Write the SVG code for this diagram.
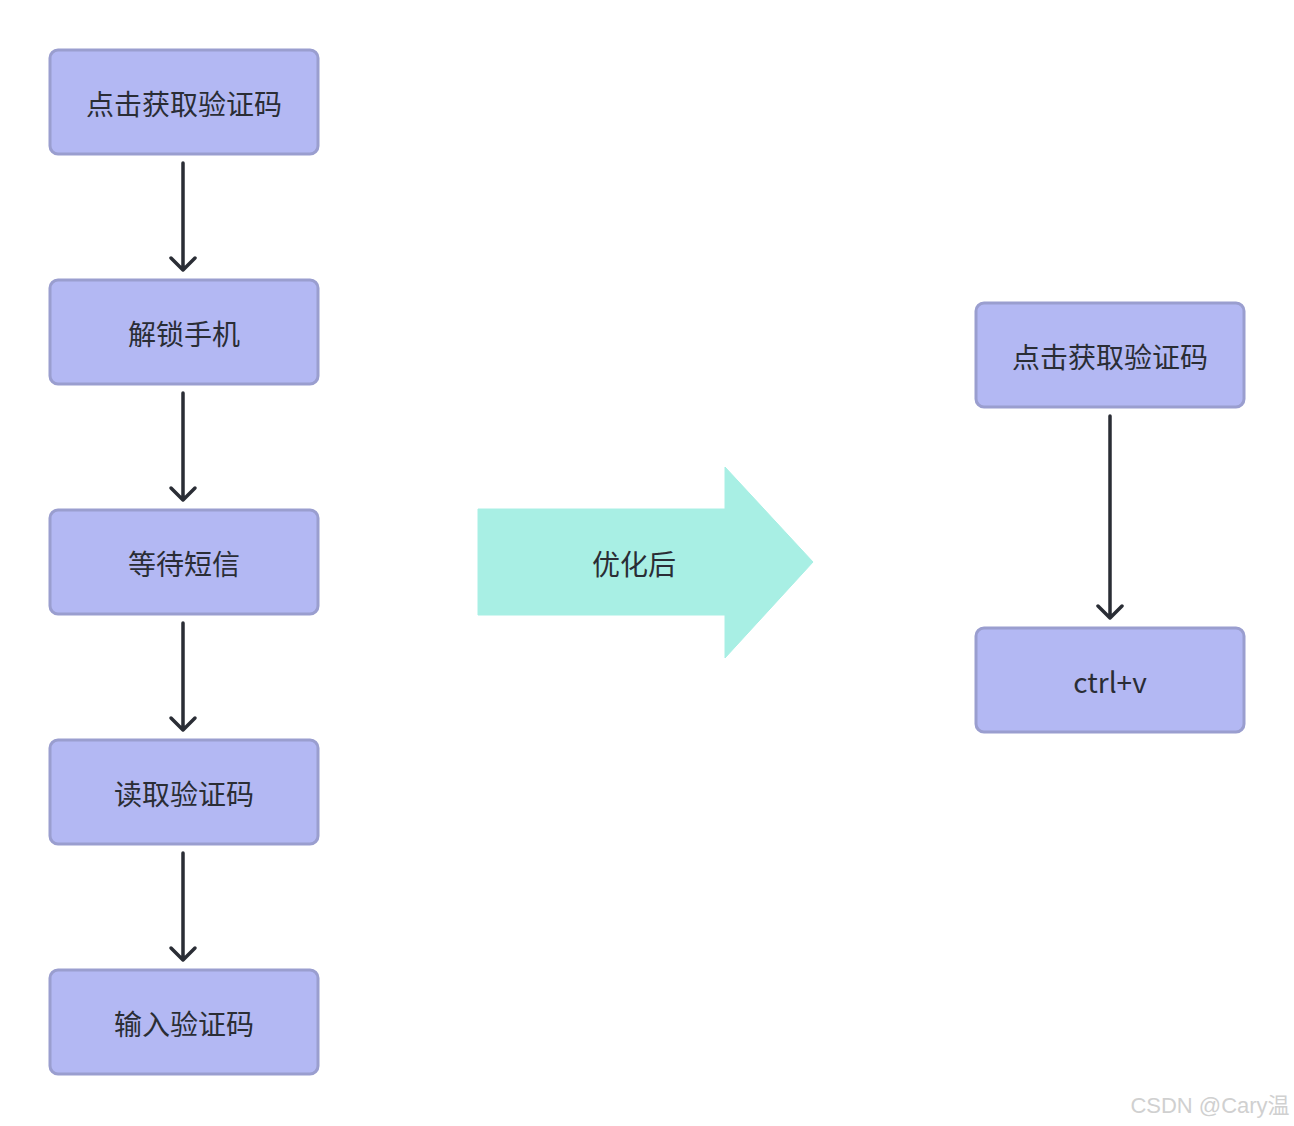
<svg xmlns="http://www.w3.org/2000/svg" width="1294" height="1126" viewBox="0 0 1294 1126">
<defs>
<style>
.box{fill:#b3b8f3;stroke:#9a9ecf;stroke-width:3}
.t{font-family:"Noto Sans CJK SC","Noto Sans",sans-serif;font-size:28px;fill:#2a2d35;text-anchor:middle;dominant-baseline:central}
.c{stroke:#2a2d35;stroke-width:3.5;fill:none;stroke-linecap:round;stroke-linejoin:round}
</style>
</defs>
<rect width="1294" height="1126" fill="#ffffff"/>
<g id="n1"><rect class="box" x="50" y="50" width="268" height="104" rx="8"/><text class="t" x="184" y="103">点击获取验证码</text></g>
<g id="n2"><rect class="box" x="50" y="280" width="268" height="104" rx="8"/><text class="t" x="184" y="333">解锁手机</text></g>
<g id="n3"><rect class="box" x="50" y="510" width="268" height="104" rx="8"/><text class="t" x="184" y="563">等待短信</text></g>
<g id="n4"><rect class="box" x="50" y="740" width="268" height="104" rx="8"/><text class="t" x="184" y="793">读取验证码</text></g>
<g id="n5"><rect class="box" x="50" y="970" width="268" height="104" rx="8"/><text class="t" x="184" y="1023">输入验证码</text></g>
<g id="n6"><rect class="box" x="976" y="303" width="268" height="104" rx="8"/><text class="t" x="1110" y="356">点击获取验证码</text></g>
<g id="n7"><rect class="box" x="976" y="628" width="268" height="104" rx="8"/><text class="t" x="1110" y="681">ctrl+v</text></g>
<g id="bigarrow"><polygon points="478,509 725,509 725,467 813,562 725,658 725,615 478,615" fill="#a8efe4" stroke="#a8efe4" stroke-width="1" stroke-linejoin="round"/><text class="t" x="634" y="563">优化后</text></g>
<g id="connectors">
<path class="c" d="M183,163 V270 M171,258 L183,270 L195,258"/>
<path class="c" d="M183,393 V500 M171,488 L183,500 L195,488"/>
<path class="c" d="M183,623 V730 M171,718 L183,730 L195,718"/>
<path class="c" d="M183,853 V960 M171,948 L183,960 L195,948"/>
<path class="c" d="M1110,416 V618 M1098,606 L1110,618 L1122,606"/>
</g>
<text x="1210" y="1105" font-family="'Liberation Sans','Noto Sans CJK SC',sans-serif" font-size="22" fill="#d0d0d0" text-anchor="middle" dominant-baseline="central">CSDN @Cary温</text>
</svg>
